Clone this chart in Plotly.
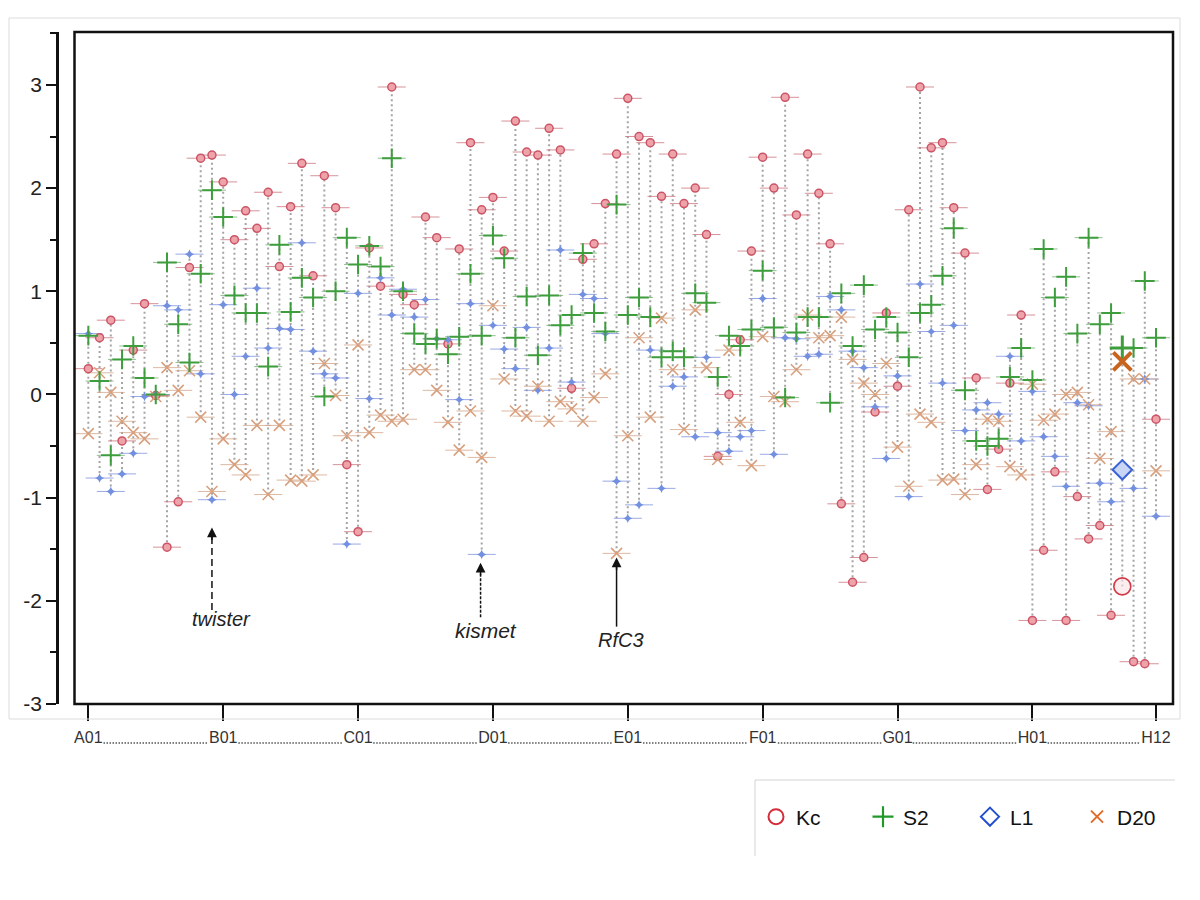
import plotly.graph_objects as go

# ---------------- data ----------------
rows = ["A", "B", "C", "D", "E", "F", "G", "H"]
wells = [f"{r}{c:02d}" for r in rows for c in range(1, 13)]
tick_wells = ["A01", "B01", "C01", "D01", "E01", "F01", "G01", "H01", "H12"]

KC = [0.25, 0.55, 0.72, -0.45, 0.43, 0.88, -0.01, -1.48, -1.04, 1.23, 2.29, 2.32,
      2.06, 1.50, 1.78, 1.61, 1.96, 1.24, 1.82, 2.24, 1.15, 2.12, 1.81, -0.68,
      -1.33, 1.42, 1.05, 2.98, 0.97, 0.87, 1.72, 1.52, 0.49, 1.41, 2.44, 1.79,
      1.91, 1.39, 2.65, 2.35, 2.32, 2.58, 2.37, 0.06, 1.31, 1.46, 1.85, 2.33,
      2.87, 2.50, 2.44, 1.92, 2.33, 1.85, 2.00, 1.55, -0.60, 0.00, 0.53, 1.39,
      2.30, 2.00, 2.88, 1.74, 2.33, 1.95, 1.46, -1.06, -1.82, -1.58, -0.17, 0.79,
      0.08, 1.79, 2.98, 2.39, 2.44, 1.81, 1.37, 0.16, -0.92, -0.53, 0.11, 0.77,
      -2.19, -1.51, -0.75, -2.19, -0.99, -1.40, -1.27, -2.14, -1.86, -2.59, -2.61, -0.24]

S2 = [0.57, 0.13, -0.59, 0.34, 0.47, 0.16, 0.00, 1.28, 0.68, 0.31, 1.17, 1.98,
      1.72, 0.96, 0.79, 0.79, 0.27, 1.45, 0.80, 1.13, 0.94, -0.02, 1.00, 1.52,
      1.26, 1.44, 1.24, 2.29, 1.00, 0.59, 0.49, 0.54, 0.39, 0.56, 1.17, 0.57,
      1.54, 1.32, 0.55, 0.95, 0.38, 0.96, 0.67, 0.77, 1.37, 0.79, 0.61, 1.84,
      0.77, 0.94, 0.75, 0.36, 0.42, 0.36, 0.98, 0.89, 0.17, 0.57, 0.47, 0.63,
      1.20, 0.65, -0.03, 0.60, 0.75, 0.75, -0.08, 0.98, 0.47, 1.06, 0.63, 0.75,
      0.60, 0.36, 0.79, 0.87, 1.15, 1.61, 0.04, -0.45, -0.50, -0.43, 0.17, 0.45,
      0.14, 1.41, 0.94, 1.14, 0.59, 1.52, 0.68, 0.79, 0.45, 0.45, 1.10, 0.55]

L1 = [0.59, -0.81, -0.94, -0.77, -0.57, -0.02, 0.00, 0.86, 0.82, 1.36, 0.20, -1.02,
      0.87, 0.00, 0.37, 1.03, 0.45, 0.64, 0.63, 1.47, 0.42, 0.20, 0.16, -1.45,
      0.98, -0.04, 1.13, 0.77, 1.02, 0.75, 0.92, 0.54, 0.53, -0.05, 0.88, -1.55,
      0.67, 0.44, 0.25, 0.65, 0.04, 0.45, 1.40, 0.12, 0.97, 0.93, 0.59, -0.84,
      -1.20, -1.07, 0.43, -0.91, 0.08, 0.17, -0.41, 0.36, -0.37, -0.55, -0.41, -0.35,
      0.93, -0.58, 0.55, 0.54, 0.37, 0.39, 0.95, 0.82, 0.42, 0.26, -0.12, -0.62,
      0.18, -0.99, 1.07, 0.61, 0.11, 0.67, -0.35, -0.15, -0.08, -0.19, 0.37, -0.45,
      0.03, -0.41, -0.60, -0.89, -0.08, -0.11, -0.86, -1.04, -0.73, -0.91, 0.15, -1.18]

D20 = [-0.38, 0.21, 0.02, -0.26, -0.37, -0.43, -0.02, 0.26, 0.04, 0.23, -0.22, -0.94,
       -0.43, -0.68, -0.78, -0.30, -0.97, -0.30, -0.83, -0.84, -0.78, 0.30, -0.01, -0.40,
       0.48, -0.37, -0.20, -0.26, -0.24, 0.24, 0.24, 0.04, -0.27, -0.54, -0.16, -0.61,
       0.86, 0.15, -0.16, -0.21, 0.08, -0.26, -0.07, -0.14, -0.26, -0.03, 0.20, -1.54,
       -0.40, 0.55, -0.22, 0.74, 0.24, -0.34, 0.82, 0.26, -0.63, 0.43, -0.27, -0.69,
       0.56, -0.02, -0.07, 0.24, 0.77, 0.55, 0.57, 0.75, 0.34, 0.11, 0.00, 0.30,
       -0.51, -0.89, -0.19, -0.27, -0.83, -0.82, -0.97, -0.68, -0.24, -0.26, -0.70, -0.78,
       0.10, -0.25, -0.19, 0.00, 0.02, -0.10, -0.62, -0.36, 0.32, 0.15, 0.15, -0.74]

HIGHLIGHT = 92  # H09, drawn with enlarged markers

gene_labels = ["twister", "kismet", "RfC3"]
gene_wells = [11, 35, 47]

# ---------------- geometry helpers ----------------
BODY = 8                                   # default page margin of the html body
FIG_W, FIG_H = 1184, 884
# plot area in page px
PL, PR, PT, PB = 57, 1173, 32, 704
FRAME_L = 74.5
W_PX = PR - PL
H_PX = PB - PT
def px_x(p):
    return (p - PL) / W_PX
def px_y(p):
    return (PB - p) / H_PX

idx = list(range(len(wells)))

fig = go.Figure()

# drop lines (min to max per well)
lx, ly = [], []
for i in idx:
    vals = [KC[i], S2[i], L1[i], D20[i]]
    lx += [i, i, None]
    ly += [min(vals), max(vals), None]
fig.add_trace(go.Scatter(x=lx, y=ly, mode="lines", hoverinfo="skip", showlegend=False,
                         line=dict(color="#a4a4a4", width=2, dash="2px,3px")))

def tick_trace(vals, color):
    xs = [i for i in idx if i != HIGHLIGHT]
    ys = [vals[i] for i in xs]
    return go.Scatter(x=xs, y=ys, mode="markers", hoverinfo="skip", showlegend=False,
                      marker=dict(symbol="line-ew", size=20,
                                  line=dict(color=color, width=1)))

def series(vals, name, marker):
    xs = [i for i in idx if i != HIGHLIGHT]
    ys = [vals[i] for i in xs]
    return go.Scatter(x=xs, y=ys, mode="markers", name=name, showlegend=False,
                      marker=marker)

# horizontal ticks behind markers
fig.add_trace(tick_trace(KC, "rgba(200,110,120,0.75)"))
fig.add_trace(tick_trace(L1, "rgba(120,140,220,0.75)"))
fig.add_trace(tick_trace(D20, "rgba(210,160,130,0.75)"))
fig.add_trace(tick_trace(S2, "rgba(110,170,110,0.75)"))

fig.add_trace(series(KC, "Kc", dict(symbol="circle", size=8, color="#eea3ab",
                                     line=dict(color="#cc5565", width=1.5))))
fig.add_trace(series(L1, "L1", dict(symbol="star-diamond", size=7, color="#7390e0",
                                     line=dict(width=0))))
fig.add_trace(series(D20, "D20", dict(symbol="x-thin", size=11,
                                       line=dict(color="#d9a07e", width=1.6))))
fig.add_trace(series(S2, "S2", dict(symbol="cross-thin", size=14,
                                     line=dict(color="#3e9e3e", width=2))))

# highlighted well
h = HIGHLIGHT
fig.add_trace(go.Scatter(x=[h], y=[KC[h]], mode="markers", showlegend=False,
                         marker=dict(symbol="circle", size=17, color="rgba(250,225,228,0.6)",
                                     line=dict(color="#d23a48", width=1.6))))
fig.add_trace(go.Scatter(x=[h], y=[L1[h]], mode="markers", showlegend=False,
                         marker=dict(symbol="diamond", size=15, color="#c9d5f5",
                                     line=dict(color="#3a62d6", width=2))))
fig.add_trace(go.Scatter(x=[h], y=[S2[h]], mode="markers", showlegend=False,
                         marker=dict(symbol="cross-thin", size=18,
                                     line=dict(color="#3e9e3e", width=3))))
fig.add_trace(go.Scatter(x=[h], y=[D20[h]], mode="markers", showlegend=False,
                         marker=dict(symbol="x-thin", size=18,
                                     line=dict(color="#c8641e", width=4))))

# legend entries
legend_markers = [
    ("Kc", dict(symbol="circle-open", size=15, color="#d42a3a", line=dict(width=2))),
    ("S2", dict(symbol="cross-thin", size=15, line=dict(color="#1f9a2a", width=2.2))),
    ("L1", dict(symbol="diamond-open", size=14, color="#2450d0", line=dict(width=2))),
    ("D20", dict(symbol="x-thin", size=12, line=dict(color="#e06a2a", width=2))),
]
for name, mk in legend_markers:
    fig.add_trace(go.Scatter(x=[None], y=[None], mode="markers", name=name, marker=mk))

# ---------------- shapes / annotations ----------------
shapes = []
# plot frame
shapes.append(dict(type="rect", xref="paper", yref="paper", x0=px_x(FRAME_L), x1=1, y0=0, y1=1,
                   line=dict(color="#111", width=2.5)))
# outer light border
shapes.append(dict(type="rect", xref="paper", yref="paper", x0=px_x(9), x1=px_x(1180),
                   y0=px_y(719), y1=px_y(18), line=dict(color="#dcdcdc", width=1)))
# legend partial border
shapes.append(dict(type="line", xref="paper", yref="paper", x0=px_x(755), x1=px_x(1175),
                   y0=px_y(780), y1=px_y(780), line=dict(color="#d4d4d4", width=1)))
shapes.append(dict(type="line", xref="paper", yref="paper", x0=px_x(755), x1=px_x(755),
                   y0=px_y(780), y1=px_y(856), line=dict(color="#d4d4d4", width=1)))

# dotted leaders between x labels
tick_idx = [wells.index(t) for t in tick_wells]
for a, b in zip(tick_idx[:-1], tick_idx[1:]):
    shapes.append(dict(type="line", xref="x", yref="paper", x0=a + 1.35, x1=b - 1.4,
                       y0=px_y(743), y1=px_y(743),
                       line=dict(color="#555", width=1.6, dash="1.5px,1.5px")))

# gene arrows: (well, tip value, bottom value, dash, text x offset, text y, font size)
arrow_specs = [
    (11, -1.29, -2.09, "7px,4px", 0.85, -2.18, 20),
    (34.9, -1.63, -2.16, "3px,1.5px", 0.5, -2.29, 21),
    (47, -1.58, -2.25, "solid", 0.4, -2.38, 20),
]
annotations = []
for (w, tip, bot, dash, tx, ty, fs), label in zip(arrow_specs, gene_labels):
    shapes.append(dict(type="line", xref="x", yref="y", x0=w, x1=w, y0=bot, y1=tip - 0.08,
                       line=dict(color="#111", width=1.5, dash=dash)))
    annotations.append(dict(x=w, y=tip, xref="x", yref="y", text="", showarrow=True,
                            ax=0, ay=14, arrowhead=2, arrowsize=1.3, arrowwidth=1.5,
                            arrowcolor="#111"))
    annotations.append(dict(x=w + tx, y=ty, xref="x", yref="y", text=f"<i>{label}</i>",
                            showarrow=False, font=dict(size=fs, color="#222",
                                                       family="Liberation Sans, Arial")))

fig.update_layout(
    width=FIG_W, height=FIG_H,
    margin=dict(l=PL - BODY, r=FIG_W - (PR - BODY), t=PT - BODY, b=FIG_H - (PB - BODY),
                autoexpand=False),
    paper_bgcolor="white", plot_bgcolor="white",
    shapes=shapes, annotations=annotations,
    showlegend=True,
    legend=dict(orientation="h", x=px_x(756), y=px_y(817), xanchor="left", yanchor="middle",
                font=dict(size=21, color="#111", family="Liberation Sans, Arial"),
                entrywidth=62, entrywidthmode="pixels", bgcolor="rgba(0,0,0,0)",
                itemclick=False),
    xaxis=dict(domain=[px_x(FRAME_L), 1], range=[-1.23, 96.51],
               tickmode="array", tickvals=tick_idx, ticktext=tick_wells,
               ticks="outside", ticklen=16, tickwidth=2, tickcolor="#111",
               ticklabelstandoff=3,
               showgrid=False, zeroline=False, showline=False,
               tickfont=dict(size=16, color="#333", family="Liberation Sans, Arial")),
    yaxis=dict(range=[-3, 3.513], anchor="free", position=0,
               tickvals=[-3, -2, -1, 0, 1, 2, 3], ticktext=["-3", "-2", "-1", "0", "1", "2", "3"],
               ticks="outside", ticklen=10, tickwidth=2, tickcolor="#111",
               minor=dict(dtick=0.5, tick0=0, ticks="outside", ticklen=6, tickwidth=2,
                          tickcolor="#111"),
               showline=True, linewidth=2.5, linecolor="#111",
               showgrid=False, zeroline=False,
               tickfont=dict(size=21, color="#222", family="Liberation Sans, Arial")),
)

fig.write_html("out.html")
